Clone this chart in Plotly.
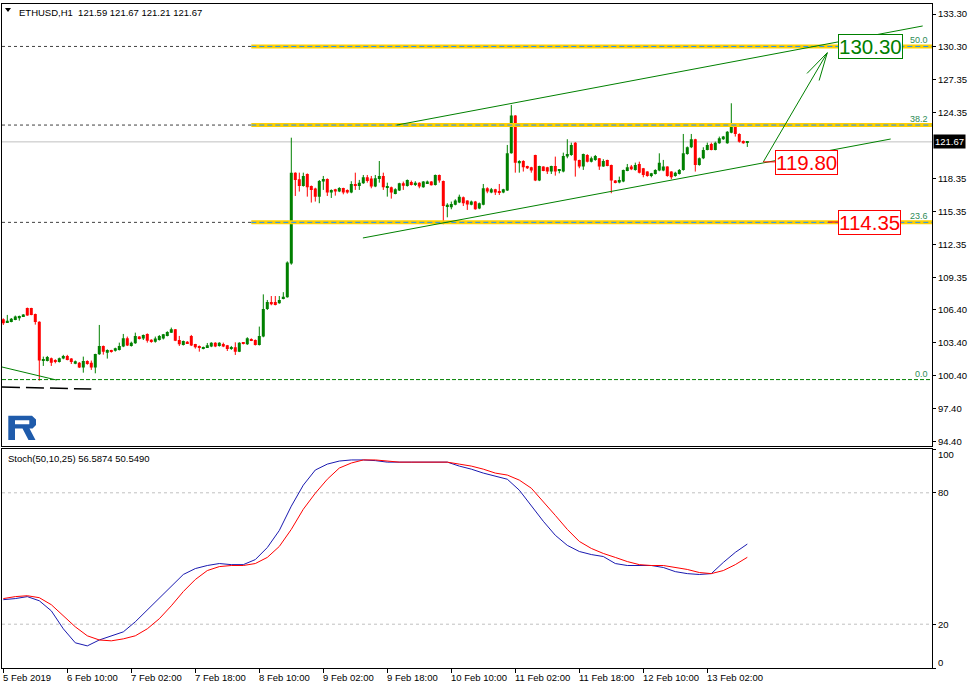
import math
import pandas as pd
import plotly.graph_objects as go

# ---------------- data ----------------
t0 = pd.Timestamp("2019-02-05 18:00")

opens = [105.53,105.23,105.29,105.47,105.62,105.78,106.56,106.56,106.02,105.32,
         101.75,101.75,101.99,101.81,101.65,101.96,102.20,101.96,101.50,101.59,
         101.14,101.75,101.59,101.14,102.35,103.11,102.50,102.72,102.68,102.75,
         103.05,103.81,103.11,103.35,103.96,103.78,104.20,103.68,103.50,103.65,
         103.78,104.02,104.32,104.62,103.65,103.20,103.50,104.02,103.29,103.11,
         102.84,102.99,103.05,103.41,103.11,103.29,103.17,102.87,102.99,102.59,
         103.41,103.26,103.75,103.65,103.20,103.96,106.47,107.11,107.11,106.99,
         107.38,107.53,110.60,118.87,118.27,117.66,118.75,117.66,117.42,116.69,
         118.06,118.30,117.06,117.36,117.15,117.48,117.30,117.06,117.72,117.66,
         117.90,118.45,118.33,117.60,118.30,118.57,117.54,117.54,116.93,117.24,
         117.90,117.66,118.03,117.75,117.96,117.54,117.90,118.06,117.75,118.66,
         118.12,115.78,115.72,115.94,116.15,116.63,116.33,115.94,116.24,115.60,
         115.94,117.45,117.06,117.36,117.15,117.06,117.24,120.63,124.06,119.72,
         119.94,119.48,119.36,120.48,118.15,119.42,119.36,118.97,119.48,119.06,
         118.97,120.33,120.48,121.60,120.03,119.42,120.48,119.87,120.03,120.18,
         119.42,120.03,119.57,118.15,117.97,118.06,119.03,119.42,119.12,119.66,
         119.27,118.97,118.57,118.75,119.06,119.06,119.42,118.97,118.57,118.75,
         119.12,120.57,121.18,121.91,119.57,120.18,120.94,121.48,120.94,121.54,
         121.91,121.54,122.51,123.30,122.39,121.75,121.59]
highs = [105.62,105.93,105.65,105.87,105.87,106.00,106.60,106.58,106.05,105.35,
         102.14,102.20,102.05,101.90,102.05,102.30,102.30,102.00,101.78,101.65,
         102.14,101.80,101.78,102.40,105.02,103.15,102.80,102.76,102.95,103.41,
         104.20,103.96,103.50,104.32,104.00,104.15,104.25,103.72,103.96,104.10,
         104.20,104.45,104.78,104.65,104.02,103.60,103.55,104.11,103.30,103.15,
         103.05,103.38,103.45,103.45,103.45,103.41,103.20,103.11,103.44,103.45,
         103.45,103.90,103.80,103.70,104.87,107.80,107.29,107.65,107.65,107.65,
         108.00,110.80,122.05,118.90,118.87,118.87,118.80,117.70,117.50,118.20,
         118.57,118.35,117.35,117.40,117.55,117.50,117.35,118.09,118.87,118.21,
         118.66,118.66,118.57,118.66,119.93,118.87,117.96,117.60,117.45,117.95,
         118.06,118.25,118.15,118.09,118.00,118.10,118.15,118.10,118.70,118.70,
         118.15,116.09,116.24,116.45,116.87,116.70,116.35,116.33,116.30,116.15,
         117.84,117.54,117.48,117.40,117.84,117.40,121.39,125.03,124.10,120.00,
         120.00,119.50,119.40,120.50,119.50,119.45,119.40,119.50,120.33,119.15,
         120.69,121.91,121.60,121.65,120.05,120.60,120.55,120.33,120.48,120.20,
         120.09,120.05,119.60,118.20,118.51,119.15,119.66,119.57,119.78,119.87,
         119.30,119.00,118.85,119.18,120.63,120.03,119.45,119.00,118.95,119.20,
         122.39,121.25,122.39,121.95,120.25,121.18,121.60,121.60,121.69,122.15,
         122.21,122.65,125.18,123.36,122.45,121.80,121.67]
lows = [105.02,105.20,105.26,105.45,105.41,105.75,105.85,105.90,105.05,99.96,
        101.29,101.70,101.29,101.53,101.60,101.90,101.80,101.47,101.45,101.10,
        100.68,101.40,100.93,100.62,102.30,102.32,101.96,102.50,102.60,102.70,
        103.00,103.10,103.05,103.30,103.70,103.65,103.41,103.40,103.41,103.60,
        103.70,103.98,104.30,103.55,103.11,103.15,103.30,103.10,102.87,102.59,
        102.80,102.95,103.00,103.00,103.05,103.00,102.65,102.75,102.29,102.55,
        103.25,103.20,103.55,103.15,103.15,103.90,106.38,106.81,106.80,106.95,
        107.35,107.50,110.50,116.75,117.15,117.60,116.69,116.15,116.24,116.09,
        117.30,116.75,116.57,116.78,117.10,116.90,116.96,117.00,117.30,117.30,
        117.85,117.96,117.45,117.55,117.96,117.30,116.69,116.51,116.90,117.20,
        117.30,117.60,117.70,117.66,117.45,117.50,117.85,117.70,117.70,117.96,
        114.18,114.81,115.54,115.90,116.10,115.84,115.48,115.90,115.50,115.55,
        115.90,117.00,117.00,116.84,116.84,117.00,117.20,120.60,118.87,118.87,
        118.97,119.20,118.87,118.10,118.10,119.00,118.75,118.75,118.60,118.81,
        118.90,120.18,120.40,118.51,119.27,119.12,119.80,119.80,119.95,119.12,
        119.40,119.45,117.00,117.90,117.90,118.00,119.00,119.10,119.05,118.80,
        118.45,118.50,118.45,118.70,119.00,119.00,118.50,118.27,118.50,118.70,
        119.05,120.50,121.10,118.97,119.50,120.10,120.90,120.90,120.90,121.50,
        121.85,121.50,122.45,122.15,121.60,121.50,121.21]
closes = [105.17,105.41,105.59,105.78,105.84,105.96,105.87,105.93,105.29,101.78,
          101.90,102.11,101.59,101.68,101.99,102.20,101.84,101.65,101.72,101.14,
          101.75,101.47,101.14,102.38,103.11,102.59,102.75,102.56,102.90,103.11,
          103.81,103.14,103.41,104.02,103.78,104.11,103.59,103.47,103.78,104.02,
          104.17,104.38,104.62,103.59,103.26,103.56,103.35,103.14,102.99,102.99,
          103.02,103.17,103.41,103.05,103.41,103.05,102.84,103.02,102.59,103.41,
          103.29,103.81,103.59,103.20,104.02,106.47,107.11,106.90,106.84,107.29,
          107.59,110.70,118.87,118.21,117.66,118.57,117.54,117.30,116.69,118.12,
          118.30,117.06,117.30,117.15,117.48,117.06,117.06,117.84,117.66,117.96,
          118.45,118.12,117.60,118.36,118.57,117.54,117.60,117.06,117.36,117.90,
          117.69,118.21,117.75,117.96,117.60,118.06,118.06,117.72,118.66,118.15,
          115.84,115.94,116.03,116.33,116.69,116.09,115.97,116.24,115.54,116.09,
          117.45,117.15,117.36,117.06,117.06,117.36,120.63,124.06,119.78,119.94,
          119.36,119.27,119.06,118.15,119.48,119.03,118.97,119.48,118.97,119.12,
          120.39,120.57,121.39,119.97,119.42,120.57,119.87,120.18,120.39,119.42,
          119.94,119.48,118.15,117.97,118.21,119.12,119.36,119.18,119.57,118.87,
          118.66,118.57,118.81,119.12,119.78,119.42,118.57,118.45,118.87,119.12,
          120.63,121.18,121.91,119.57,120.18,120.94,121.39,120.94,121.60,122.00,
          122.15,122.60,123.30,122.39,121.69,121.54,121.67]
times = pd.date_range(t0, periods=len(opens), freq="h")

# Stochastic (50,10,25), sampled every 3 bars
stoch_times = pd.date_range(t0, periods=63, freq="3h")
stoch_main = [31.2,31.7,32.6,30.7,26.1,17.9,11.5,10.1,12.8,14.7,16.5,21.1,26.6,32.1,
              37.6,42.7,45.4,46.8,47.7,47.2,47.2,49.5,55.0,62.8,73.9,83.5,90.4,93.1,
              94.5,95.0,95.0,94.7,94.0,94.0,94.0,94.0,94.0,94.0,92.2,90.8,89.0,87.6,
              86.2,81.2,73.9,67.0,60.6,56.0,53.2,51.8,50.9,47.7,46.8,46.8,46.8,45.9,
              44.0,43.1,42.7,43.1,48.2,52.8,56.59]
stoch_signal = [31.7,32.6,33.0,32.1,28.9,23.9,18.8,14.7,12.8,12.4,13.3,14.7,17.9,22.5,
                28.4,34.9,40.4,44.5,46.3,46.8,46.8,47.7,50.5,55.5,63.3,72.5,79.8,86.2,
                91.3,93.6,95.0,95.0,94.5,94.0,94.0,94.0,94.0,94.0,93.1,92.2,90.8,89.0,
                88.1,85.8,82.1,76.1,69.7,63.3,57.8,54.6,52.3,50.5,48.6,47.2,46.8,46.8,
                45.9,45.0,43.6,43.1,44.5,47.2,50.55]

price_ticks = [133.30,130.30,127.35,124.35,118.35,115.35,112.35,109.35,106.40,
               103.40,100.40,97.40,94.40]
x_tick_labels = ["5 Feb 2019","6 Feb 10:00","7 Feb 02:00","7 Feb 18:00","8 Feb 10:00",
                 "9 Feb 02:00","9 Feb 18:00","10 Feb 10:00","11 Feb 02:00",
                 "11 Feb 18:00","12 Feb 10:00","13 Feb 02:00"]
x_tick_times = list(times[0::16])

last_price = 121.67
fib_levels = ["0.0", "23.6", "38.2", "50.0"]
fib_prices = [100.05, 114.35, 123.20, 130.35]
fib_start = pd.Timestamp("2019-02-08 08:00")

# drawn objects (time, price)
upper_channel = [(pd.Timestamp("2019-02-09 20:21"), 123.20), (pd.Timestamp("2019-02-15 07:51"), 132.21)]
lower_channel = [(pd.Timestamp("2019-02-09 11:54"), 112.93), (pd.Timestamp("2019-02-14 23:51"), 121.93)]
left_trend = [(pd.Timestamp("2019-02-05 17:30"), 101.21), (pd.Timestamp("2019-02-06 07:18"), 100.01)]
left_dash = [(pd.Timestamp("2019-02-05 17:40"), 99.37), (pd.Timestamp("2019-02-06 16:00"), 99.19)]
arrow = [(pd.Timestamp("2019-02-13 16:00"), 119.85), (pd.Timestamp("2019-02-14 08:00"), 129.78)]
targets = [("130.30", 130.34, pd.Timestamp("2019-02-14 10:40"), "#008000"),
           ("119.80", 119.81, pd.Timestamp("2019-02-13 18:56"), "#FF0000"),
           ("114.35", 114.38, pd.Timestamp("2019-02-14 10:40"), "#FF0000")]

# ---------------- layout geometry ----------------
W, H = 972, 689
ML, MR, MT, MB = 2, 40, 4, 21
PW, PH = W - ML - MR, H - MT - MB
main_top, main_bot = 4, 445.5
st_top, st_bot = 449, 668
ppy_price = 10.995
y_max = 133.30 + (14 - main_top) / ppy_price
y_min = 133.30 - (main_bot - 14) / ppy_price
x_lo = t0 - pd.Timedelta(hours=0.325)
x_hi = t0 + pd.Timedelta(hours=232.175)
ppx_hour = PW / 232.5


def px(x):
    return (x - ML) / PW


def py(y):
    return (H - MB - y) / PH


small = dict(family="Liberation Sans, Arial, sans-serif", size=9.5, color="black")
big_family = "Liberation Sans Narrow, Arial Narrow, Liberation Sans, Arial, sans-serif"

fig = go.Figure()

# ---------------- candles ----------------
bull_c, bear_c = "#008000", "#FF0000"
for is_bull, col in ((True, bull_c), (False, bear_c)):
    wx, wy, bx, bb, bh = [], [], [], [], []
    for t, o, h, l, c in zip(times, opens, highs, lows, closes):
        if (c >= o) != is_bull:
            continue
        wx += [t, t, None]
        wy += [l, h, None]
        bx.append(t)
        bb.append(min(o, c))
        bh.append(max(abs(c - o), 0.09))
    fig.add_trace(go.Scatter(x=wx, y=wy, mode="lines", line=dict(color=col, width=1),
                             hoverinfo="skip", xaxis="x", yaxis="y"))
    fig.add_trace(go.Bar(x=bx, y=bh, base=bb, width=2.7e6, marker=dict(color=col, line=dict(width=0)),
                         hoverinfo="skip", xaxis="x", yaxis="y"))

# ---------------- stochastic ----------------
fig.add_trace(go.Scatter(x=stoch_times, y=stoch_main, mode="lines",
                         line=dict(color="#1a1ab0", width=1), xaxis="x2", yaxis="y2"))
fig.add_trace(go.Scatter(x=stoch_times, y=stoch_signal, mode="lines",
                         line=dict(color="#FF0000", width=1), xaxis="x2", yaxis="y2"))

shapes = []
for lv in (80, 20):
    shapes.append(dict(type="line", xref="paper", yref="y2", x0=0, x1=1, y0=lv, y1=lv,
                       line=dict(color="#c0c0c0", width=1, dash="3px,3px"), layer="below"))
shapes.append(dict(type="line", xref="paper", yref="y", x0=0, x1=1, y0=last_price, y1=last_price,
                   line=dict(color="#c0c0c0", width=1), layer="below"))
far_right = pd.Timestamp("2019-02-17 00:00")
for lvl, p in zip(fib_levels, fib_prices):
    if lvl == "0.0":
        shapes.append(dict(type="line", xref="paper", yref="y", x0=0, x1=1, y0=p, y1=p,
                           line=dict(color="#008000", width=1, dash="4px,2px")))
        continue
    shapes.append(dict(type="line", xref="x", yref="y", x0=x_lo, x1=fib_start, y0=p, y1=p,
                       line=dict(color="#404040", width=1, dash="3px,3px")))
    shapes.append(dict(type="line", xref="x", yref="y", x0=fib_start, x1=far_right, y0=p, y1=p,
                       line=dict(color="#FFD000", width=4)))
    shapes.append(dict(type="line", xref="x", yref="y", x0=fib_start, x1=far_right, y0=p, y1=p,
                       line=dict(color="#1E90FF", width=1, dash="5px,3px")))

for seg in (upper_channel, lower_channel, left_trend):
    shapes.append(dict(type="line", xref="x", yref="y", x0=seg[0][0], y0=seg[0][1],
                       x1=seg[1][0], y1=seg[1][1], line=dict(color="#008000", width=1)))
shapes.append(dict(type="line", xref="x", yref="y", x0=left_dash[0][0], y0=left_dash[0][1],
                   x1=left_dash[1][0], y1=left_dash[1][1],
                   line=dict(color="black", width=1.5, dash="18px,6px")))

(a0t, a0p), (a1t, a1p) = arrow
shapes.append(dict(type="line", xref="x", yref="y", x0=a0t, y0=a0p, x1=a1t, y1=a1p,
                   line=dict(color="#008000", width=1)))
dxp = (a1t - a0t) / pd.Timedelta(hours=1) * ppx_hour
dyp = (a1p - a0p) * ppy_price
ang = math.atan2(dyp, dxp)
for s in (1, -1):
    a = ang + math.pi + s * math.radians(14)
    ht = a1t + pd.Timedelta(hours=29 * math.cos(a) / ppx_hour)
    hp = a1p + 29 * math.sin(a) / ppy_price
    shapes.append(dict(type="line", xref="x", yref="y", x0=a1t, y0=a1p, x1=ht, y1=hp,
                       line=dict(color="#008000", width=1)))

shapes.append(dict(type="line", xref="x", yref="y", x0=a0t, y0=a0p, x1=targets[1][2], y1=a0p,
                   line=dict(color="#FF0000", width=1)))
shapes.append(dict(type="line", xref="x", yref="y", x0=targets[2][2] - pd.Timedelta(hours=2.5),
                   y0=targets[2][1], x1=targets[2][2], y1=targets[2][1],
                   line=dict(color="#FF0000", width=1)))

tri = [(5, 8), (11, 8), (8, 12)]
shapes.append(dict(type="path", xref="paper", yref="paper",
                   path="M " + " L ".join(f"{px(x):.5f},{py(y):.5f}" for x, y in tri) + " Z",
                   fillcolor="black", line=dict(width=0)))

outer = [(8.3, 415.7), (32, 415.7), (36, 419.5), (36, 425), (32.5, 428.5), (29.5, 428.5),
         (35.5, 440), (28.5, 440), (22.5, 428.5), (15, 428.5), (15, 440), (8.3, 440)]
hole = [(15, 420.3), (29.3, 420.3), (29.3, 424.3), (15, 424.3)]
logo_path = ""
for poly in (outer, hole):
    logo_path += "M " + " L ".join(f"{px(x):.5f},{py(y):.5f}" for x, y in poly) + " Z "
shapes.append(dict(type="path", xref="paper", yref="paper", path=logo_path,
                   fillcolor="#1f5bab", line=dict(width=0), fillrule="evenodd"))

annotations = []
annotations.append(dict(xref="paper", yref="paper", x=px(17), y=py(12), xanchor="left",
                        yanchor="middle", showarrow=False, font=small,
                        text="ETHUSD,H1\u00a0\u00a0121.59 121.67 121.21 121.67"))
annotations.append(dict(xref="paper", yref="paper", x=px(6), y=py(458), xanchor="left",
                        yanchor="middle", showarrow=False, font=small,
                        text="Stoch(50,10,25) 56.5874 50.5490"))
for lvl, p in zip(fib_levels, fib_prices):
    annotations.append(dict(xref="paper", yref="y", x=1, y=p, xanchor="right", yanchor="bottom",
                            xshift=-2, yshift=-1, showarrow=False, text=lvl,
                            font=dict(family=small["family"], size=9, color="#2E8B57")))
annotations.append(dict(xref="paper", yref="y", x=1, y=last_price, xanchor="left", yanchor="middle",
                        xshift=1, showarrow=False, text=f"{last_price:.2f}", bgcolor="black",
                        borderpad=1, font=dict(family=small["family"], size=9.5, color="white")))
for txt, p, t, col in targets:
    annotations.append(dict(xref="x", yref="y", x=t, y=p, xanchor="left", yanchor="middle",
                            showarrow=False, text=txt, bordercolor=col, borderwidth=1, borderpad=0,
                            bgcolor="white", font=dict(family=big_family, size=20.5, color=col)))
annotations.append(dict(xref="paper", yref="paper", x=1, y=py(454), xanchor="left", yanchor="middle",
                        xshift=4, showarrow=False, text="100", font=small))
annotations.append(dict(xref="paper", yref="paper", x=1, y=py(662), xanchor="left", yanchor="middle",
                        xshift=4, showarrow=False, text="0", font=small))
for t, lab in zip(x_tick_times, x_tick_labels):
    annotations.append(dict(xref="x2", yref="paper", x=t, y=0, xanchor="left", yanchor="top",
                            xshift=-2, yshift=-2, showarrow=False, text=lab, font=small))

axis_common = dict(showgrid=False, zeroline=False, showline=True, mirror=True,
                   linecolor="black", linewidth=1)

fig.update_layout(
    width=W, height=H, margin=dict(l=ML, r=MR, t=MT, b=MB),
    paper_bgcolor="white", plot_bgcolor="white", showlegend=False,
    barmode="overlay", hovermode=False,
    xaxis=dict(domain=[0, 1], anchor="y", range=[x_lo, x_hi], type="date",
               showticklabels=False, ticks="", **axis_common),
    yaxis=dict(domain=[py(main_bot), py(main_top)], anchor="x", side="right",
               range=[y_min, y_max], tickvals=price_ticks,
               ticktext=[f"{v:.2f}" for v in price_ticks], ticks="outside", ticklen=3,
               tickcolor="black", tickfont=small, **axis_common),
    xaxis2=dict(domain=[0, 1], anchor="y2", matches="x", range=[x_lo, x_hi], type="date",
                tickvals=x_tick_times, showticklabels=False, ticks="outside", ticklen=4,
                tickcolor="black", **axis_common),
    yaxis2=dict(domain=[py(st_bot), py(st_top)], anchor="x2", side="right", range=[0, 100],
                tickvals=[0, 20, 80, 100], ticktext=["", "20", "80", ""], ticks="outside",
                ticklen=3, tickcolor="black", tickfont=small, **axis_common),
    shapes=shapes, annotations=annotations,
)

fig.write_html("out.html", config={"displayModeBar": False},
               post_script="document.body.style.margin='0';document.body.style.padding='0';"
                           "document.body.style.overflow='hidden';")
